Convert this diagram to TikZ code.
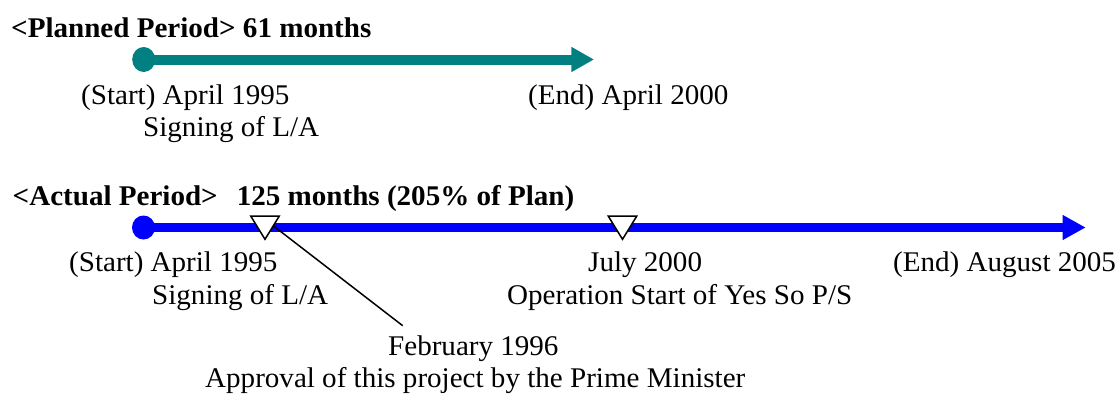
\documentclass[tikz,border=0pt]{standalone}
\usepackage{fontspec}
\setmainfont{Liberation Serif}[FakeStretch=1.02]
\usetikzlibrary{arrows.meta,shapes.geometric}
\definecolor{tealc}{RGB}{0,128,128}
\definecolor{bluec}{RGB}{0,0,255}
\begin{document}
\begin{tikzpicture}[x=1pt,y=-1pt,
  lbl/.style={anchor=base west, inner sep=0pt, font=\fontsize{28.5}{32}\selectfont},
  ttl/.style={anchor=base west, inner sep=0pt, font=\fontsize{28.5}{32}\selectfont\bfseries},
  dotteal/.style={ellipse, fill=tealc, minimum width=23pt, minimum height=25pt, inner sep=0pt},
  dotblue/.style={ellipse, fill=bluec, minimum width=23pt, minimum height=24pt, inner sep=0pt},
  tline/.style={draw=tealc, line width=10pt, -{Triangle[length=22.6pt,width=23.6pt]}},
  bline/.style={draw=bluec, line width=9pt, -{Triangle[length=23pt,width=23.4pt]}},
  marker/.style={draw=black, fill=white, line width=1.5pt, line join=miter},
  leader/.style={draw=black, line width=1.5pt}
]
\useasboundingbox (0,0) rectangle (1119,394);

% ---- Planned period ----
\node[ttl] (t1) at (11,37) {<Planned Period> 61 months};
\node[dotteal] (p0) at (143.7,59.5) {};
\coordinate (p1) at (594,59.5);
\draw[tline] (p0.center) -- (p1);
\node[lbl] (s1a) at (81,104) {(Start) April 1995};
\node[lbl] (s1b) at (143,136.5) {Signing of L/A};
\node[lbl] (e1) at (528,104) {(End) April 2000};

% ---- Actual period ----
\node[ttl] (t2) at (12.5,205) {<Actual Period>\hspace{19pt}125 months (205\% of Plan)};
\node[dotblue] (a0) at (143.5,227.5) {};
\coordinate (a1) at (1085.7,227.5);
\draw[bline] (a0.center) -- (a1);

\coordinate (m1) at (265,227.5);
\coordinate (m2) at (622.5,227.5);
\coordinate (m1lead) at (269,222.5);
\coordinate (ldr) at (402.7,325.7);
\draw[leader] (m1lead) -- (ldr);
\draw[marker] ([shift={(-14.3,-11.5)}]m1) -- ([shift={(14.3,-11.5)}]m1) -- ([shift={(0,11.8)}]m1) -- cycle;
\draw[marker] ([shift={(-14.3,-11.5)}]m2) -- ([shift={(14.3,-11.5)}]m2) -- ([shift={(0,11.8)}]m2) -- cycle;

\node[lbl] (s2a) at (69,271.7) {(Start) April 1995};
\node[lbl] (s2b) at (152,304) {Signing of L/A};
\node[lbl] (j) at (588,271.7) {July 2000};
\node[lbl] (op) at (507,304) {Operation Start of Yes So P/S};
\node[lbl] (e2) at (893,271.7) {(End) August 2005};
\node[lbl] (f) at (388,355) {February 1996};
\node[lbl] (ap) at (205,387) {Approval of this project by the Prime Minister};
\end{tikzpicture}
\end{document}
